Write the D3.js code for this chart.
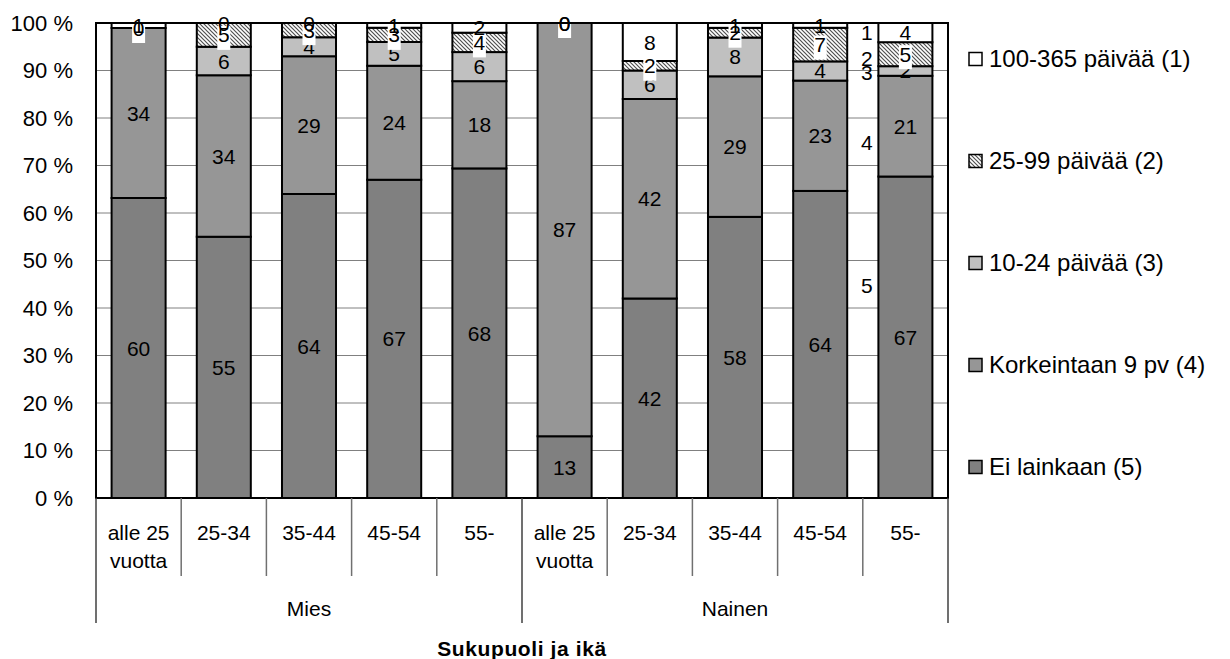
<!DOCTYPE html>
<html>
<head>
<meta charset="utf-8">
<script src="https://cdn.jsdelivr.net/npm/d3@7"></script>
<style>
  html, body { margin: 0; padding: 0; background: #fff; }
  svg { display: block; font-family: "Liberation Sans", Arial, sans-serif; }
</style>
</head>
<body>
<svg id="chart" width="1230" height="659"></svg>
<script>
// ---- data ----
const groups = ["Mies", "Nainen"];
const ageLabels = ["alle 25|vuotta", "25-34", "35-44", "45-54", "55-"];
const seriesNames = ["Ei lainkaan (5)", "Korkeintaan 9 pv (4)", "10-24 päivää (3)", "25-99 päivää (2)", "100-365 päivää (1)"];
const eiLainkaan   = [60, 55, 64, 67, 68, 13, 42, 58, 64, 67];
const korkeintaan9 = [34, 34, 29, 24, 18, 87, 42, 29, 23, 21];
const paivaa10_24  = [0, 6, 4, 5, 6, 0, 6, 8, 4, 2];
const paivaa25_99  = [0, 5, 3, 3, 4, 0, 2, 2, 7, 5];
const paivaa100_365 = [1, 0, 0, 1, 2, 0, 8, 1, 1, 4];
const yTicks = [0, 10, 20, 30, 40, 50, 60, 70, 80, 90, 100];
const strayLabels = ["1", "2", "3", "4", "5"];
const strayPct = [97.9, 92.6, 89.5, 74.9, 44.8];
const axisTitle = "Sukupuoli ja ikä";

// ---- build table ----
const seriesArrays = [eiLainkaan, korkeintaan9, paivaa10_24, paivaa25_99, paivaa100_365];
const cats = [];
groups.forEach((g, gi) => ageLabels.forEach((a, ai) => cats.push({ key: g + "-" + a, group: g, label: a })));
const table = cats.map((c, i) => {
  const row = { key: c.key };
  seriesNames.forEach((s, si) => row[s] = seriesArrays[si][i]);
  return row;
});
const stacked = d3.stack().keys(seriesNames).offset(d3.stackOffsetExpand)(table);

// ---- layout ----
const svg = d3.select("#chart");
const L = 96, R = 948, T = 23, B = 498;
const x = d3.scaleBand().domain(cats.map(c => c.key)).range([L, R]).paddingInner(0.366).paddingOuter(0.183);
const xSlot = d3.scaleBand().domain(cats.map(c => c.key)).range([L, R]).padding(0);
const y = d3.scaleLinear().domain([0, 1]).range([B, T]);
const yPct = d3.scaleLinear().domain([0, 100]).range([B, T]);

const fills = ["#808080", "#969696", "#c0c0c0", "url(#hatch)", "#ffffff"];

const defs = svg.append("defs");
const pat = defs.append("pattern").attr("id", "hatch").attr("patternUnits", "userSpaceOnUse")
  .attr("width", 4).attr("height", 4);
pat.append("rect").attr("width", 4).attr("height", 4).attr("fill", "#fff");
pat.append("path").attr("d", "M-1,-1 L5,5 M3,-1 L5,1 M-1,3 L1,5")
  .attr("stroke", "#505050").attr("stroke-width", 1.2);

// gridlines
svg.append("g").selectAll("line").data(yTicks).join("line")
  .attr("x1", L).attr("x2", R)
  .attr("y1", d => yPct(d)).attr("y2", d => yPct(d))
  .attr("stroke", "#808080").attr("stroke-width", 1);

// y labels
svg.append("g").selectAll("text").data(yTicks).join("text")
  .attr("x", 73).attr("y", d => yPct(d))
  .attr("text-anchor", "end").attr("dominant-baseline", "central")
  .attr("font-size", 22).attr("fill", "#000")
  .text(d => d + " %");

// bars
stacked.forEach((layer, si) => {
  svg.append("g").selectAll("rect").data(layer).join("rect")
    .attr("x", d => x(d.data.key))
    .attr("width", x.bandwidth())
    .attr("y", d => y(d[1]))
    .attr("height", d => y(d[0]) - y(d[1]))
    .attr("fill", fills[si])
    .attr("stroke", "#000").attr("stroke-width", 2);
});

// value labels
stacked.forEach((layer, si) => {
  const g = svg.append("g");
  layer.forEach((d, i) => {
    const cx = x(d.data.key) + x.bandwidth() / 2;
    const cy = (y(d[0]) + y(d[1])) / 2;
    const v = seriesArrays[si][i];
    const txt = String(v);
    if (si === 3) {
      g.append("rect").attr("x", cx - 6.5).attr("y", cy - 9).attr("width", 13).attr("height", 24).attr("fill", "#fff");
    }
    g.append("text").attr("x", cx).attr("y", cy)
      .attr("text-anchor", "middle").attr("dominant-baseline", "central")
      .attr("font-size", 21).attr("fill", "#000").text(txt);
  });
});

// stray labels
const strayX = xSlot(cats[9].key) + 4;
svg.append("g").selectAll("text").data(strayLabels).join("text")
  .attr("x", strayX).attr("y", (d, i) => yPct(strayPct[i]))
  .attr("text-anchor", "middle").attr("dominant-baseline", "central")
  .attr("font-size", 21).attr("fill", "#000").text(d => d);

// plot border
svg.append("rect").attr("x", L).attr("y", T).attr("width", R - L).attr("height", B - T)
  .attr("fill", "none").attr("stroke", "#000").attr("stroke-width", 2);

// category axis
const catAxis = svg.append("g");
cats.forEach((c, i) => {
  const x0 = xSlot(c.key);
  const isGroupEdge = (i % ageLabels.length) === 0;
  catAxis.append("line").attr("x1", x0).attr("x2", x0).attr("y1", B).attr("y2", isGroupEdge ? 623 : 576)
    .attr("stroke", isGroupEdge ? "#404040" : "#707070").attr("stroke-width", 1.5);
  const parts = c.label.split("|");
  parts.forEach((p, pi) => {
    catAxis.append("text").attr("x", x0 + xSlot.bandwidth() / 2).attr("y", 532 + pi * 28)
      .attr("text-anchor", "middle").attr("dominant-baseline", "central")
      .attr("font-size", 21).attr("fill", "#000").text(p);
  });
});
catAxis.append("line").attr("x1", R).attr("x2", R).attr("y1", B).attr("y2", 623)
  .attr("stroke", "#404040").attr("stroke-width", 1.5);
groups.forEach((g, gi) => {
  const first = cats[gi * ageLabels.length].key, last = cats[gi * ageLabels.length + ageLabels.length - 1].key;
  const cx = (xSlot(first) + xSlot(last) + xSlot.bandwidth()) / 2;
  catAxis.append("text").attr("x", cx).attr("y", 608)
    .attr("text-anchor", "middle").attr("dominant-baseline", "central")
    .attr("font-size", 21).attr("fill", "#000").text(g);
});

// axis title
svg.append("text").attr("x", (L + R) / 2).attr("y", 648)
  .attr("text-anchor", "middle").attr("dominant-baseline", "central")
  .attr("font-size", 21).attr("font-weight", "bold").attr("letter-spacing", 0.6)
  .attr("fill", "#000").text(axisTitle);

// legend
const legendOrder = [4, 3, 2, 1, 0];
const lg = svg.append("g");
legendOrder.forEach((si, k) => {
  const cy = 59 + k * 102;
  lg.append("rect").attr("x", 969).attr("y", cy - 6.5).attr("width", 13).attr("height", 13)
    .attr("fill", fills[si]).attr("stroke", "#000").attr("stroke-width", 1.5);
  lg.append("text").attr("x", 989).attr("y", cy - 1)
    .attr("dominant-baseline", "central").attr("font-size", 24).attr("fill", "#000")
    .text(seriesNames[si]);
});
</script>
</body>
</html>
